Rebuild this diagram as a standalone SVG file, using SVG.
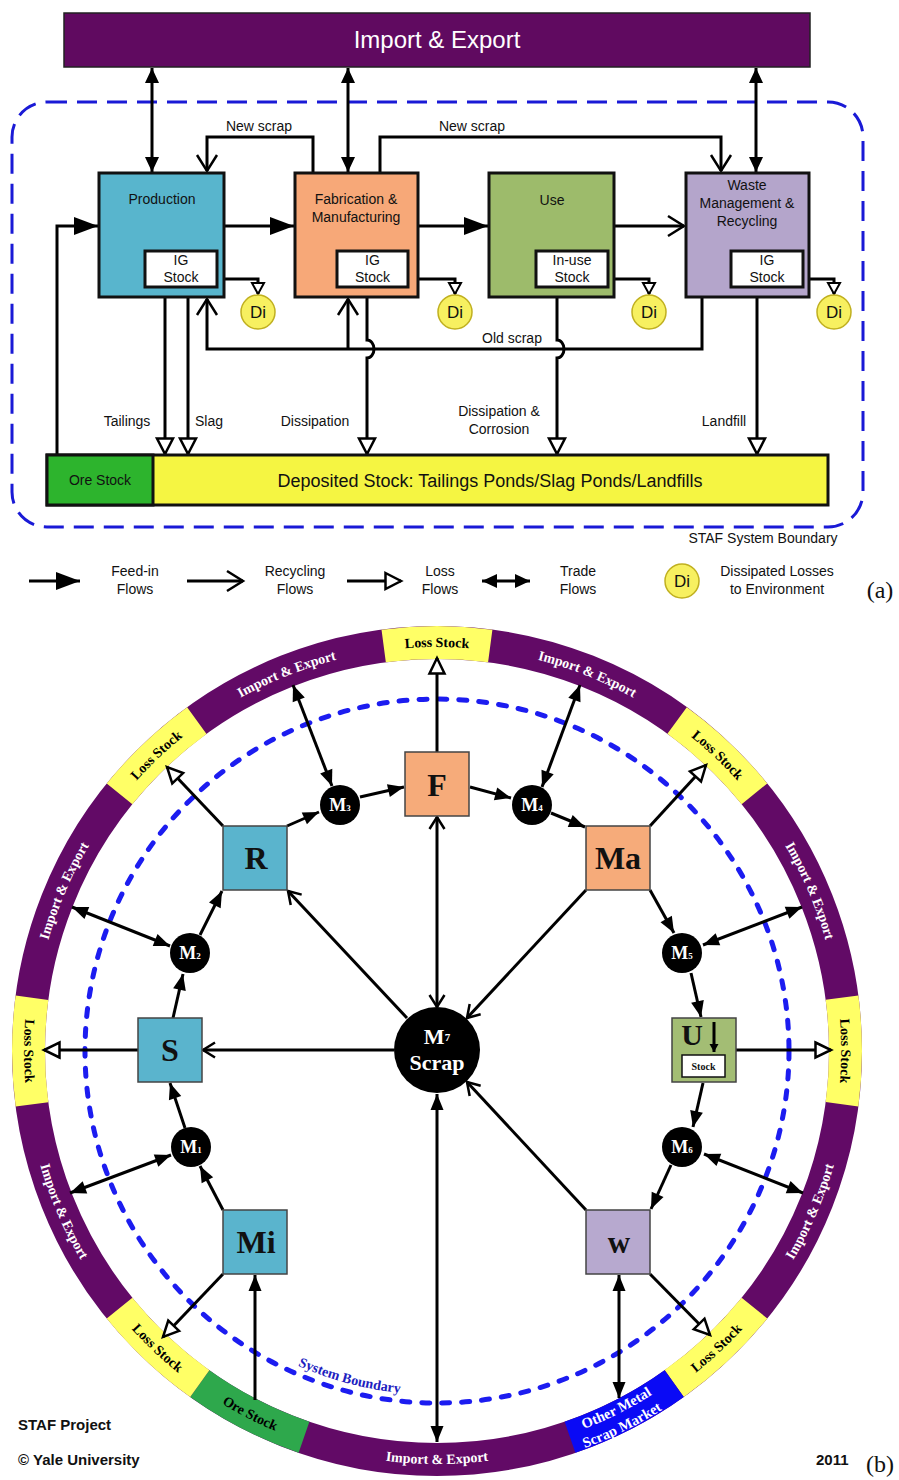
<svg xmlns="http://www.w3.org/2000/svg" width="899" height="1480" viewBox="0 0 899 1480">
<style>
.s{font-family:"Liberation Sans",Arial,sans-serif;fill:#111}
.sr{font-family:"Liberation Serif","Times New Roman",serif;font-weight:bold}
.ln{fill:none;stroke:#000;stroke-width:3}
.lb{fill:none;stroke:#000;stroke-width:3}
.bxa{stroke:#111;stroke-width:3}
.bxb{stroke:#444;stroke-width:1.5}
.mc{fill:#000}
.mt{fill:#fff;font-size:18px}
.rt{font-size:14px}
</style>
<defs>
<marker id="mFa" markerUnits="userSpaceOnUse" markerWidth="26" markerHeight="20" refX="24" refY="9" orient="auto" overflow="visible"><path d="M0,0 L24,9 L0,18 z" fill="#000"/></marker>
<marker id="mTa" markerUnits="userSpaceOnUse" markerWidth="16" markerHeight="16" refX="15" refY="7" orient="auto-start-reverse" overflow="visible"><path d="M0,0 L15,7 L0,14 z" fill="#000"/></marker>
<marker id="mRa" markerUnits="userSpaceOnUse" markerWidth="20" markerHeight="24" refX="17" refY="11" orient="auto" overflow="visible"><path d="M1,1 L17,11 L1,21" fill="none" stroke="#000" stroke-width="2.5"/></marker>
<marker id="mLa" markerUnits="userSpaceOnUse" markerWidth="20" markerHeight="20" refX="17" refY="9.5" orient="auto" overflow="visible"><path d="M1.5,1.5 L17,9.5 L1.5,17.5 z" fill="#fff" stroke="#000" stroke-width="2.5"/></marker>
<marker id="mLs" markerUnits="userSpaceOnUse" markerWidth="14" markerHeight="14" refX="12" refY="7" orient="auto" overflow="visible"><path d="M1,1 L12,7 L1,13 z" fill="#fff" stroke="#000" stroke-width="2"/></marker>
<marker id="mTs" markerUnits="userSpaceOnUse" markerWidth="10" markerHeight="10" refX="8" refY="4.5" orient="auto-start-reverse" overflow="visible"><path d="M0,0 L8,4.5 L0,9 z" fill="#000"/></marker>
<marker id="mFb" markerUnits="userSpaceOnUse" markerWidth="18" markerHeight="14" refX="16" refY="6.5" orient="auto-start-reverse" overflow="visible"><path d="M0,0 L16,6.5 L0,13 z" fill="#000"/></marker>
<marker id="mLb" markerUnits="userSpaceOnUse" markerWidth="20" markerHeight="20" refX="17" refY="9" orient="auto" overflow="visible"><path d="M1.5,1.5 L17,9 L1.5,16.5 z" fill="#fff" stroke="#000" stroke-width="2.5"/></marker>
<marker id="mRb" markerUnits="userSpaceOnUse" markerWidth="16" markerHeight="18" refX="13" refY="8.5" orient="auto-start-reverse" overflow="visible"><path d="M1,1 L13,8.5 L1,16" fill="none" stroke="#000" stroke-width="2.5"/></marker>
<path id="cw" d="M437,1455 A404,404 0 1 1 437,647 A404,404 0 1 1 437,1455"/>
<path id="ccw" d="M437,638 A413,413 0 1 0 437,1464 A413,413 0 1 0 437,638"/>
<path id="ccwA" d="M437,645.5 A405.5,405.5 0 1 0 437,1456.5 A405.5,405.5 0 1 0 437,645.5"/>
<path id="ccwB" d="M437,627.5 A423.5,423.5 0 1 0 437,1474.5 A423.5,423.5 0 1 0 437,627.5"/>
<path id="sbp" d="M437,707 A344,344 0 1 0 437,1395 A344,344 0 1 0 437,707"/>
</defs>
<rect width="899" height="1480" fill="#fff"/>

<!-- ================= PART (a) ================= -->
<g id="boundary-a">
<rect x="12" y="102" width="851" height="425" rx="35" fill="none" stroke="#1a1ad6" stroke-width="3" stroke-dasharray="20 10"/>
<text class="s" x="763" y="543" font-size="14" text-anchor="middle">STAF System Boundary</text>
</g>
<g id="import-export-a">
<rect x="64" y="13" width="746" height="54" fill="#600a60" stroke="#222" stroke-width="1.5"/>
<text class="s" x="437" y="48" font-size="24" text-anchor="middle" style="fill:#fff">Import &amp; Export</text>
</g>

<g id="connectors-a">
<path class="ln" d="M152,68 V172" marker-start="url(#mTa)" marker-end="url(#mTa)"/>
<path class="ln" d="M348,68 V172" marker-start="url(#mTa)" marker-end="url(#mTa)"/>
<path class="ln" d="M756,68 V172" marker-start="url(#mTa)" marker-end="url(#mTa)"/>
<path class="ln" d="M313,173 V137 H207 V171" marker-end="url(#mRa)"/>
<path class="ln" d="M380,173 V137 H721 V171" marker-end="url(#mRa)"/>
<path class="ln" d="M57,455 V226 H98" marker-end="url(#mFa)"/>
<path class="ln" d="M224,226 H294" marker-end="url(#mFa)"/>
<path class="ln" d="M418,226 H488" marker-end="url(#mFa)"/>
<path class="ln" d="M614,226 H684" marker-end="url(#mRa)"/>
<path class="ln" d="M182,229 V250" stroke-width="2.5" marker-start="url(#mTs)" marker-end="url(#mTs)"/>
<path class="ln" d="M373,229 V250" stroke-width="2.5" marker-start="url(#mTs)" marker-end="url(#mTs)"/>
<path class="ln" d="M572,229 V250" stroke-width="2.5" marker-start="url(#mTs)" marker-end="url(#mTs)"/>
<path class="ln" d="M767,229 V250" stroke-width="2.5" marker-start="url(#mTs)" marker-end="url(#mTs)"/>
<path class="ln" d="M217,279 H258 V294" stroke-width="2.5" marker-end="url(#mLs)"/>
<path class="ln" d="M408,279 H455 V294" stroke-width="2.5" marker-end="url(#mLs)"/>
<path class="ln" d="M608,279 H649 V294" stroke-width="2.5" marker-end="url(#mLs)"/>
<path class="ln" d="M803,279 H834 V294" stroke-width="2.5" marker-end="url(#mLs)"/>
<path class="ln" d="M702,297 V349 H207 V299" marker-end="url(#mRa)"/>
<path class="ln" d="M348,349 V299" marker-end="url(#mRa)"/>
<path class="ln" d="M165,297 V454" marker-end="url(#mLa)"/>
<path class="ln" d="M188,297 V454" marker-end="url(#mLa)"/>
<path class="ln" d="M367,297 V340 a7,9 0 0 1 0,18 V454" marker-end="url(#mLa)"/>
<path class="ln" d="M557,297 V340 a7,9 0 0 1 0,18 V454" marker-end="url(#mLa)"/>
<path class="ln" d="M757,297 V454" marker-end="url(#mLa)"/>
</g>

<g id="production">
<rect class="bxa" x="99" y="173" width="125" height="124" fill="#58b5cd"/>
<text class="s" x="162" y="204" font-size="14" text-anchor="middle">Production</text>
<rect class="bxa" x="145" y="251" width="72" height="36" fill="#fff"/>
<text class="s" x="181" y="265" font-size="14" text-anchor="middle">IG</text>
<text class="s" x="181" y="282" font-size="14" text-anchor="middle">Stock</text>
</g>
<g id="fabrication">
<rect class="bxa" x="295" y="173" width="123" height="124" fill="#f7a878"/>
<text class="s" x="356" y="204" font-size="14" text-anchor="middle">Fabrication &amp;</text>
<text class="s" x="356" y="222" font-size="14" text-anchor="middle">Manufacturing</text>
<rect class="bxa" x="337" y="251" width="71" height="36" fill="#fff"/>
<text class="s" x="372.5" y="265" font-size="14" text-anchor="middle">IG</text>
<text class="s" x="372.5" y="282" font-size="14" text-anchor="middle">Stock</text>
</g>
<g id="use">
<rect class="bxa" x="489" y="173" width="125" height="124" fill="#9dbb6b"/>
<text class="s" x="552" y="205" font-size="14" text-anchor="middle">Use</text>
<rect class="bxa" x="536" y="251" width="72" height="36" fill="#fff"/>
<text class="s" x="572" y="265" font-size="14" text-anchor="middle">In-use</text>
<text class="s" x="572" y="282" font-size="14" text-anchor="middle">Stock</text>
</g>
<g id="waste">
<rect class="bxa" x="686" y="173" width="123" height="124" fill="#b4a5cb"/>
<text class="s" x="747" y="190" font-size="14" text-anchor="middle">Waste</text>
<text class="s" x="747" y="208" font-size="14" text-anchor="middle">Management &amp;</text>
<text class="s" x="747" y="226" font-size="14" text-anchor="middle">Recycling</text>
<rect class="bxa" x="731" y="251" width="72" height="36" fill="#fff"/>
<text class="s" x="767" y="265" font-size="14" text-anchor="middle">IG</text>
<text class="s" x="767" y="282" font-size="14" text-anchor="middle">Stock</text>
</g>
<g id="di-nodes">
<circle cx="258" cy="312" r="17" fill="#f7f060" stroke="#c0b020" stroke-width="1.5"/>
<text class="s" x="258" y="318" font-size="17" text-anchor="middle">Di</text>
<circle cx="455" cy="312" r="17" fill="#f7f060" stroke="#c0b020" stroke-width="1.5"/>
<text class="s" x="455" y="318" font-size="17" text-anchor="middle">Di</text>
<circle cx="649" cy="312" r="17" fill="#f7f060" stroke="#c0b020" stroke-width="1.5"/>
<text class="s" x="649" y="318" font-size="17" text-anchor="middle">Di</text>
<circle cx="834" cy="312" r="17" fill="#f7f060" stroke="#c0b020" stroke-width="1.5"/>
<text class="s" x="834" y="318" font-size="17" text-anchor="middle">Di</text>
</g>
<g id="labels-a">
<text class="s" x="259" y="131" font-size="14" text-anchor="middle">New scrap</text>
<text class="s" x="472" y="131" font-size="14" text-anchor="middle">New scrap</text>
<text class="s" x="512" y="343" font-size="14" text-anchor="middle">Old scrap</text>
<text class="s" x="127" y="426" font-size="14" text-anchor="middle">Tailings</text>
<text class="s" x="209" y="426" font-size="14" text-anchor="middle">Slag</text>
<text class="s" x="315" y="426" font-size="14" text-anchor="middle">Dissipation</text>
<text class="s" x="499" y="416" font-size="14" text-anchor="middle">Dissipation &amp;</text>
<text class="s" x="499" y="434" font-size="14" text-anchor="middle">Corrosion</text>
<text class="s" x="724" y="426" font-size="14" text-anchor="middle">Landfill</text>
</g>
<g id="deposited-stock">
<rect class="bxa" x="47" y="455" width="781" height="50" fill="#f5f542"/>
<text class="s" x="490" y="487" font-size="18" text-anchor="middle">Deposited Stock: Tailings Ponds/Slag Ponds/Landfills</text>
</g>
<g id="ore-stock-a">
<rect class="bxa" x="47" y="455" width="106" height="50" fill="#2db42d"/>
<text class="s" x="100" y="485" font-size="14" text-anchor="middle">Ore Stock</text>
</g>
<g id="legend-a">
<path class="ln" d="M29,581 H80" marker-end="url(#mFa)"/>
<text class="s" x="135" y="576" font-size="14" text-anchor="middle">Feed-in</text>
<text class="s" x="135" y="594" font-size="14" text-anchor="middle">Flows</text>
<path class="ln" d="M187,581 H243" marker-end="url(#mRa)"/>
<text class="s" x="295" y="576" font-size="14" text-anchor="middle">Recycling</text>
<text class="s" x="295" y="594" font-size="14" text-anchor="middle">Flows</text>
<path class="ln" d="M347,581 H401" marker-end="url(#mLa)"/>
<text class="s" x="440" y="576" font-size="14" text-anchor="middle">Loss</text>
<text class="s" x="440" y="594" font-size="14" text-anchor="middle">Flows</text>
<path class="ln" d="M482,581 H530" marker-start="url(#mTa)" marker-end="url(#mTa)"/>
<text class="s" x="578" y="576" font-size="14" text-anchor="middle">Trade</text>
<text class="s" x="578" y="594" font-size="14" text-anchor="middle">Flows</text>
<circle cx="682" cy="581" r="17" fill="#f7f060" stroke="#c0b020" stroke-width="1.5"/>
<text class="s" x="682" y="587" font-size="17" text-anchor="middle">Di</text>
<text class="s" x="777" y="576" font-size="14" text-anchor="middle">Dissipated Losses</text>
<text class="s" x="777" y="594" font-size="14" text-anchor="middle">to Environment</text>
<text x="880" y="598" font-family="Liberation Serif,serif" font-size="24" text-anchor="middle" fill="#111">(a)</text>
</g>

<!-- ================= PART (b) ================= -->
<g id="ring">
<circle cx="437" cy="1051" r="408.5" fill="none" stroke="#620a66" stroke-width="33"/>
<g fill="none" stroke-width="33">
<circle cx="437" cy="1051" r="408.5" pathLength="360" stroke="#ffff66" stroke-dasharray="15 400" transform="rotate(262.5 437 1051)"/>
<circle cx="437" cy="1051" r="408.5" pathLength="360" stroke="#ffff66" stroke-dasharray="15 400" transform="rotate(-54 437 1051)"/>
<circle cx="437" cy="1051" r="408.5" pathLength="360" stroke="#ffff66" stroke-dasharray="15 400" transform="rotate(-7.5 437 1051)"/>
<circle cx="437" cy="1051" r="408.5" pathLength="360" stroke="#ffff66" stroke-dasharray="15.5 400" transform="rotate(39 437 1051)"/>
<circle cx="437" cy="1051" r="408.5" pathLength="360" stroke="#0a0af5" stroke-dasharray="16.5 400" transform="rotate(54.5 437 1051)"/>
<circle cx="437" cy="1051" r="408.5" pathLength="360" stroke="#2ea84c" stroke-dasharray="16.5 400" transform="rotate(109 437 1051)"/>
<circle cx="437" cy="1051" r="408.5" pathLength="360" stroke="#ffff66" stroke-dasharray="15.5 400" transform="rotate(125.5 437 1051)"/>
<circle cx="437" cy="1051" r="408.5" pathLength="360" stroke="#ffff66" stroke-dasharray="15 400" transform="rotate(172.5 437 1051)"/>
<circle cx="437" cy="1051" r="408.5" pathLength="360" stroke="#ffff66" stroke-dasharray="15 400" transform="rotate(219 437 1051)"/>
</g>
<g class="sr rt" text-anchor="middle">
<text fill="#000"><textPath href="#cw" startOffset="50%">Loss Stock</textPath></text>
<text fill="#fff"><textPath href="#cw" startOffset="56.04%">Import &amp; Export</textPath></text>
<text fill="#000"><textPath href="#cw" startOffset="62.08%">Loss Stock</textPath></text>
<text fill="#fff"><textPath href="#cw" startOffset="68.54%">Import &amp; Export</textPath></text>
<text fill="#000"><textPath href="#cw" startOffset="75%">Loss Stock</textPath></text>
<text fill="#fff"><textPath href="#cw" startOffset="31.46%">Import &amp; Export</textPath></text>
<text fill="#000"><textPath href="#cw" startOffset="37.92%">Loss Stock</textPath></text>
<text fill="#fff"><textPath href="#cw" startOffset="43.96%">Import &amp; Export</textPath></text>
<text fill="#fff"><textPath href="#ccw" startOffset="68.54%">Import &amp; Export</textPath></text>
<text fill="#000"><textPath href="#ccw" startOffset="62.01%">Loss Stock</textPath></text>
<text fill="#fff" font-size="14.5"><textPath href="#ccwA" startOffset="57.4%">Other Metal</textPath></text>
<text fill="#fff" font-size="14.5"><textPath href="#ccwB" startOffset="57.3%">Scrap Market</textPath></text>
<text fill="#fff"><textPath href="#ccw" startOffset="50%">Import &amp; Export</textPath></text>
<text fill="#000"><textPath href="#ccw" startOffset="42.43%">Ore Stock</textPath></text>
<text fill="#000"><textPath href="#ccw" startOffset="37.99%">Loss Stock</textPath></text>
<text fill="#fff"><textPath href="#ccw" startOffset="31.46%">Import &amp; Export</textPath></text>
<text fill="#000"><textPath href="#ccw" startOffset="25%">Loss Stock</textPath></text>
</g>
</g>
<g id="system-boundary-b">
<circle cx="437" cy="1051" r="352" fill="none" stroke="#1c1cf0" stroke-width="5" stroke-linecap="round" stroke-dasharray="8 12"/>
<text class="sr" font-size="14" fill="#2020c0" text-anchor="middle"><textPath href="#sbp" startOffset="45.83%">System Boundary</textPath></text>
</g>

<g id="connectors-b">
<path class="lb" d="M223,1210 L200,1166" marker-end="url(#mFb)"/>
<path class="lb" d="M185,1128 L170,1083" marker-end="url(#mFb)"/>
<path class="lb" d="M171,1155 L70,1193" marker-start="url(#mFb)" marker-end="url(#mFb)"/>
<path class="lb" d="M223,1274 L163,1337" marker-end="url(#mLb)"/>
<path class="lb" d="M255,1400 L255,1275" marker-end="url(#mFb)"/>
<path class="lb" d="M138,1050 L44,1050" marker-end="url(#mLb)"/>
<path class="lb" d="M394,1050 L203,1050" marker-end="url(#mRb)"/>
<path class="lb" d="M173,1018 L183,974" marker-end="url(#mFb)"/>
<path class="lb" d="M200,935 L222,891" marker-end="url(#mFb)"/>
<path class="lb" d="M170,946 L72,907" marker-start="url(#mFb)" marker-end="url(#mFb)"/>
<path class="lb" d="M223,826 L167,767" marker-end="url(#mLb)"/>
<path class="lb" d="M287,826 L319,812" marker-end="url(#mFb)"/>
<path class="lb" d="M332,786 L293,685" marker-start="url(#mFb)" marker-end="url(#mFb)"/>
<path class="lb" d="M360,797 L404,787" marker-end="url(#mFb)"/>
<path class="lb" d="M437,752 L437,658" marker-end="url(#mLb)"/>
<path class="lb" d="M437,817 L437,1007" marker-start="url(#mRb)" marker-end="url(#mRb)"/>
<path class="lb" d="M407,1018 L288,891" marker-end="url(#mRb)"/>
<path class="lb" d="M586,890 L467,1018" marker-end="url(#mRb)"/>
<path class="lb" d="M586,1210 L467,1082" marker-end="url(#mRb)"/>
<path class="lb" d="M437,1094 L437,1442" marker-start="url(#mFb)" marker-end="url(#mFb)"/>
<path class="lb" d="M470,787 L511,798" marker-end="url(#mFb)"/>
<path class="lb" d="M542,787 L580,685" marker-start="url(#mFb)" marker-end="url(#mFb)"/>
<path class="lb" d="M551,813 L585,827" marker-end="url(#mFb)"/>
<path class="lb" d="M650,826 L706,765" marker-end="url(#mLb)"/>
<path class="lb" d="M650,890 L674,933" marker-end="url(#mFb)"/>
<path class="lb" d="M703,945 L802,907" marker-start="url(#mFb)" marker-end="url(#mFb)"/>
<path class="lb" d="M691,973 L701,1017" marker-end="url(#mFb)"/>
<path class="lb" d="M736,1050 L831,1050" marker-end="url(#mLb)"/>
<path class="lb" d="M703,1083 L693,1127" marker-end="url(#mFb)"/>
<path class="lb" d="M704,1154 L803,1193" marker-start="url(#mFb)" marker-end="url(#mFb)"/>
<path class="lb" d="M671,1165 L651,1209" marker-end="url(#mFb)"/>
<path class="lb" d="M650,1274 L710,1335" marker-end="url(#mLb)"/>
<path class="lb" d="M619,1275 L619,1398" marker-start="url(#mFb)" marker-end="url(#mFb)"/>
</g>

<g id="node-F"><rect class="bxb" x="405" y="752" width="64" height="64" fill="#f6ab7a"/><text class="sr" x="437" y="796" font-size="32" text-anchor="middle" fill="#111">F</text></g>
<g id="node-R"><rect class="bxb" x="223" y="826" width="64" height="64" fill="#5ab4cd"/><text class="sr" x="256" y="869" font-size="32" text-anchor="middle" fill="#111">R</text></g>
<g id="node-Ma"><rect class="bxb" x="586" y="826" width="64" height="64" fill="#f6ab7a"/><text class="sr" x="618" y="869" font-size="32" text-anchor="middle" fill="#111">Ma</text></g>
<g id="node-S"><rect class="bxb" x="138" y="1018" width="64" height="64" fill="#5ab4cd"/><text class="sr" x="170" y="1061" font-size="32" text-anchor="middle" fill="#111">S</text></g>
<g id="node-U"><rect class="bxb" x="672" y="1018" width="64" height="64" fill="#a3bd74"/><text class="sr" x="692" y="1045" font-size="30" text-anchor="middle" fill="#111">U</text>
<path class="lb" d="M714,1022 V1052" stroke-width="2.5" marker-end="url(#mTs)"/>
<rect x="682" y="1055" width="43" height="22" fill="#fff" stroke="#111" stroke-width="1.5"/><text class="sr" x="703.5" y="1070" font-size="10" text-anchor="middle" fill="#111">Stock</text></g>
<g id="node-Mi"><rect class="bxb" x="223" y="1210" width="64" height="64" fill="#5ab4cd"/><text class="sr" x="256" y="1253" font-size="32" text-anchor="middle" fill="#111">Mi</text></g>
<g id="node-W"><rect class="bxb" x="586" y="1210" width="64" height="64" fill="#b7a9cf"/><text class="sr" x="619" y="1253" font-size="31" text-anchor="middle" fill="#111">w</text></g>
<g id="node-M7"><circle class="mc" cx="437" cy="1050" r="43"/><text class="sr" x="437" y="1044" font-size="22" text-anchor="middle" fill="#fff">M<tspan font-size="11" dy="-3">7</tspan></text><text class="sr" x="437" y="1070" font-size="22" text-anchor="middle" fill="#fff">Scrap</text></g>
<g id="node-M1"><circle class="mc" cx="191" cy="1147" r="20"/><text class="sr mt" x="191" y="1153" text-anchor="middle">M<tspan font-size="9">1</tspan></text></g>
<g id="node-M2"><circle class="mc" cx="190" cy="953" r="20"/><text class="sr mt" x="190" y="959" text-anchor="middle">M<tspan font-size="9">2</tspan></text></g>
<g id="node-M3"><circle class="mc" cx="340" cy="805" r="20"/><text class="sr mt" x="340" y="811" text-anchor="middle">M<tspan font-size="9">3</tspan></text></g>
<g id="node-M4"><circle class="mc" cx="532" cy="805" r="20"/><text class="sr mt" x="532" y="811" text-anchor="middle">M<tspan font-size="9">4</tspan></text></g>
<g id="node-M5"><circle class="mc" cx="682" cy="953" r="20"/><text class="sr mt" x="682" y="959" text-anchor="middle">M<tspan font-size="9">5</tspan></text></g>
<g id="node-M6"><circle class="mc" cx="682" cy="1147" r="20"/><text class="sr mt" x="682" y="1153" text-anchor="middle">M<tspan font-size="9">6</tspan></text></g>

<g id="footer-b">
<text x="18" y="1430" font-family="Liberation Sans,Arial,sans-serif" font-weight="bold" font-size="15" fill="#111">STAF Project</text>
<text x="18" y="1465" font-family="Liberation Sans,Arial,sans-serif" font-weight="bold" font-size="15" fill="#111">© Yale University</text>
<text x="816" y="1465" font-family="Liberation Sans,Arial,sans-serif" font-weight="bold" font-size="15" fill="#111">2011</text>
<text x="880" y="1472" font-family="Liberation Serif,serif" font-size="24" text-anchor="middle" fill="#111">(b)</text>
</g>
</svg>
